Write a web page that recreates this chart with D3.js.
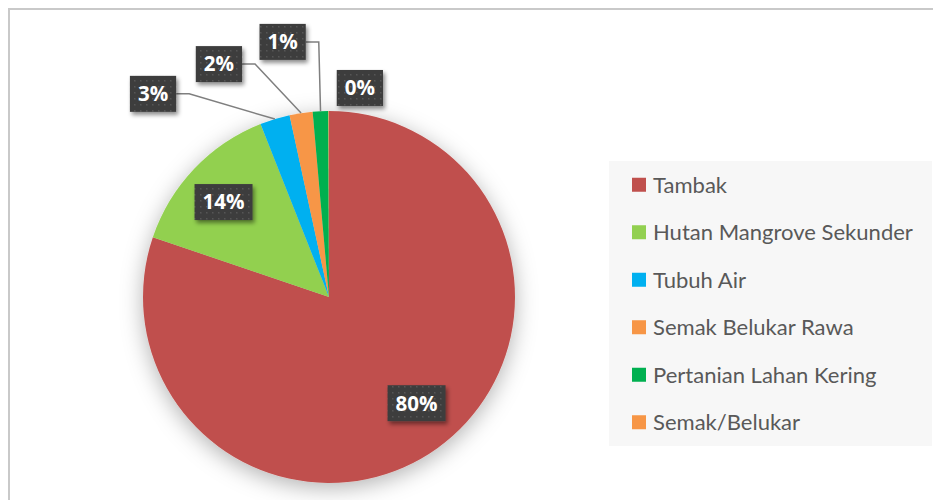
<!DOCTYPE html>
<html>
<head>
<meta charset="utf-8">
<script src="https://cdn.jsdelivr.net/npm/d3@7/dist/d3.min.js"></script>
<style>
  html, body { margin: 0; padding: 0; background: #ffffff; }
  svg { display: block; }
</style>
</head>
<body>
<svg id="chart" width="933" height="500"></svg>
<script>
// Land cover shares (percent)
const categories = ["Tambak", "Hutan Mangrove Sekunder", "Tubuh Air", "Semak Belukar Rawa", "Pertanian Lahan Kering", "Semak/Belukar"];
const shares = [80.2, 13.8, 2.6, 2.0, 1.35, 0.05];
const sliceColors = ["#C0504D", "#92D050", "#00B0F0", "#F79646", "#00B050", "#F79646"];

// Where each percentage callout sits: angle (deg, clockwise from 12 o'clock)
// and distance from the pie centre in radii; leader lines for the small slices.
const labelAngles = [140.5, 312, -40.9, -25.3, -10.3, 8.4];
const labelRadii = [0.74, 0.763, 1.445, 1.385, 1.394, 1.136];
const hasLeader = [false, false, true, true, true, false];

const W = 933, H = 500;
const cx = 329, cy = 297, R = 186;

const svg = d3.select("#chart");
const defs = svg.append("defs");

// soft shadow under the pie
const pieShadow = defs.append("filter").attr("id", "pieShadow")
  .attr("x", "-30%").attr("y", "-30%").attr("width", "160%").attr("height", "160%");
pieShadow.append("feDropShadow").attr("dx", 0).attr("dy", 5).attr("stdDeviation", 11)
  .attr("flood-color", "#000").attr("flood-opacity", 0.3);

// shadow under the callout boxes
const boxShadow = defs.append("filter").attr("id", "boxShadow")
  .attr("x", "-30%").attr("y", "-30%").attr("width", "160%").attr("height", "160%");
boxShadow.append("feDropShadow").attr("dx", 2).attr("dy", 3).attr("stdDeviation", 2)
  .attr("flood-color", "#000").attr("flood-opacity", 0.45);

// dotted texture for the callout boxes
const pat = defs.append("pattern").attr("id", "dots")
  .attr("width", 6).attr("height", 6).attr("patternUnits", "userSpaceOnUse");
pat.append("rect").attr("width", 6).attr("height", 6).attr("fill", "#3d3d3d");
pat.append("rect").attr("x", 2).attr("y", 2).attr("width", 1.5).attr("height", 1.5).attr("fill", "#575757");

// chart frame
svg.append("rect").attr("x", 9).attr("y", 9).attr("width", W + 20).attr("height", H + 20)
  .attr("fill", "#ffffff").attr("stroke", "#c9c9c9").attr("stroke-width", 2);

// legend panel
const legendX = 609, legendTop = 161, legendBottom = 446;
svg.append("rect").attr("x", legendX).attr("y", legendTop)
  .attr("width", 932 - legendX).attr("height", legendBottom - legendTop)
  .attr("fill", "#f7f7f7");

// pie
const data = categories.map((c, i) => ({ name: c, value: shares[i], color: sliceColors[i], i }));
const total = d3.sum(shares);
const pie = d3.pie().sort(null).value(d => d.value).startAngle(0).endAngle(2 * Math.PI);
const arcs = pie(data);
const arc = d3.arc().innerRadius(0).outerRadius(R);

const pieG = svg.append("g").attr("transform", `translate(${cx},${cy})`);
pieG.append("g").attr("filter", "url(#pieShadow)")
  .selectAll("path").data(arcs).enter().append("path")
  .attr("d", arc).attr("fill", d => d.data.color);

// fit a text size so a sample string spans a given width
function fitSize(str, family, weight, target) {
  const t = svg.append("text").attr("font-family", family).attr("font-weight", weight)
    .attr("font-size", 20).text(str);
  const len = t.node().getComputedTextLength();
  t.remove();
  return 20 * target / len;
}

const labelFont = "'Open Sans', 'DejaVu Sans', sans-serif";
const legendFont = "Lato, 'Open Sans', sans-serif";
const labelSize = fitSize("80%", labelFont, 700, 42);
const legendSize = fitSize("Hutan Mangrove Sekunder", legendFont, 400, 260);

// leader lines and callout boxes
const rad = a => a * Math.PI / 180;
const lines = svg.append("g");
const boxes = svg.append("g");
arcs.forEach((a, i) => {
  const pct = Math.round(a.data.value / total * 100) + "%";
  const ang = rad(labelAngles[i]);
  const bx = cx + R * labelRadii[i] * Math.sin(ang);
  const by = cy - R * labelRadii[i] * Math.cos(ang);

  const g = boxes.append("g");
  const txt = g.append("text")
    .attr("x", bx).attr("y", by + labelSize * 0.357)
    .attr("text-anchor", "middle")
    .attr("font-family", labelFont).attr("font-weight", 700)
    .attr("font-size", labelSize).attr("fill", "#ffffff")
    .text(pct);
  const tw = txt.node().getComputedTextLength();
  const bw = tw + 16, bh = 36;
  g.insert("rect", "text")
    .attr("x", bx - bw / 2).attr("y", by - bh / 2)
    .attr("width", bw).attr("height", bh)
    .attr("fill", "url(#dots)").attr("filter", "url(#boxShadow)");

  if (hasLeader[i]) {
    const mid = (a.startAngle + a.endAngle) / 2;
    const ex = cx + R * Math.sin(mid), ey = cy - R * Math.cos(mid);
    const sx = bx + bw / 2, kx = sx + 13;
    lines.append("polyline")
      .attr("points", `${sx},${by} ${kx},${by} ${ex},${ey}`)
      .attr("fill", "none").attr("stroke", "#7f7f7f").attr("stroke-width", 1.5);
  }
});

// legend
const rowScale = d3.scaleBand().domain(categories).range([legendTop, legendBottom]);
const lg = svg.append("g");
categories.forEach((c, i) => {
  const yc = rowScale(c) + rowScale.bandwidth() / 2;
  lg.append("rect").attr("x", 632).attr("y", yc - 7).attr("width", 14).attr("height", 14)
    .attr("fill", sliceColors[i]);
  lg.append("text").attr("x", 653).attr("y", yc + legendSize * 0.36)
    .attr("font-family", legendFont).attr("font-size", legendSize)
    .attr("fill", "#595959").text(c);
});
</script>
</body>
</html>
